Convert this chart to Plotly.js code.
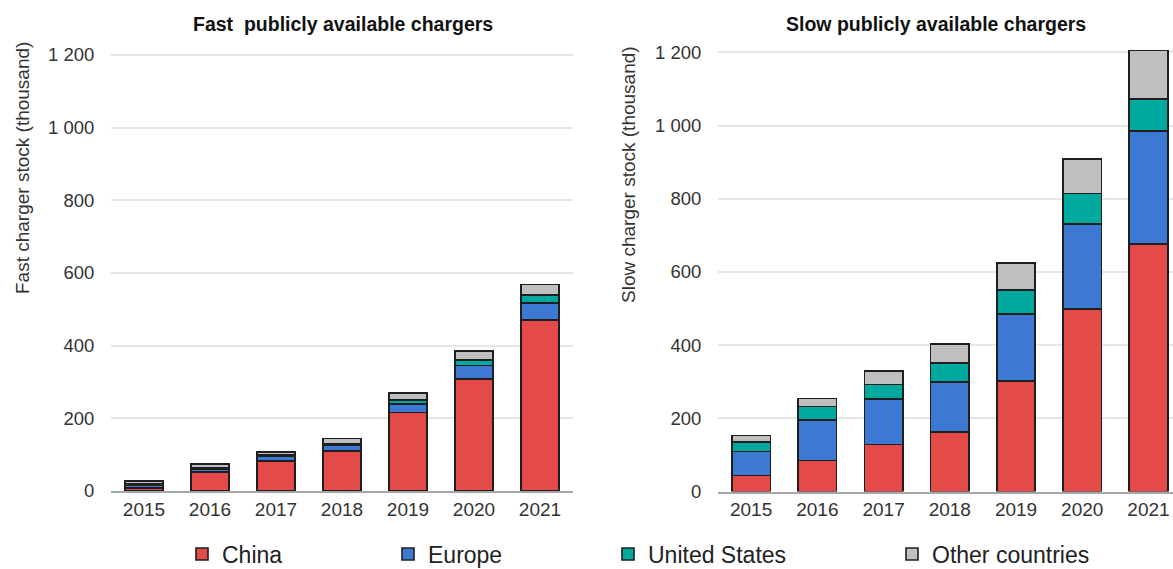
<!DOCTYPE html>
<html>
<head>
<meta charset="utf-8">
<script src="https://cdn.plot.ly/plotly-3.0.1.min.js"></script>
<style>html,body{margin:0;padding:0;background:#fff;}#chart{width:1173px;height:569px;}</style>
</head>
<body>
<div id="chart"></div>
<script>
// ---- data (thousand chargers) ----
const years = ["2015", "2016", "2017", "2018", "2019", "2020", "2021"];
const seriesNames = ["China", "Europe", "United States", "Other countries"];

const fastChina  = [9, 52, 82, 110, 216, 308, 470];
const fastEurope = [6, 8, 13, 16, 24, 37, 48];
const fastUS     = [4, 3, 4, 5, 11, 16, 22];
const fastOther  = [8, 12, 9, 13, 18, 25, 28];

const slowChina  = [44, 85, 128, 162, 302, 499, 676];
const slowEurope = [65, 111, 125, 137, 184, 232, 309];
const slowUS     = [27, 36, 39, 52, 65, 84, 88];
const slowOther  = [17, 22, 38, 53, 73, 94, 132];

const yTickVals = [0, 200, 400, 600, 800, 1000, 1200];
const yTickText = ["0", "200", "400", "600", "800", "1 000", "1 200"];

const titleFast = "Fast  publicly available chargers";
const titleSlow = "Slow publicly available chargers";
const yTitleFast = "Fast charger stock (thousand)";
const yTitleSlow = "Slow charger stock (thousand)";

// ---- styling ----
const colors = ["#e34a48", "#3d78d2", "#00a99d", "#bfbfbf"];
const FONT = "Liberation Sans, Arial, Helvetica, sans-serif";
const W = 1173, H = 569;
const px = v => v / W;
const py = v => 1 - v / H;

const fastSets = [fastChina, fastEurope, fastUS, fastOther];
const slowSets = [slowChina, slowEurope, slowUS, slowOther];
const legendIds = ["legend", "legend2", "legend3", "legend4"];
const barLine = {color: "#1f1f1f", width: 1.6};

const traces = [];
fastSets.forEach((vals, i) => {
  traces.push({
    type: "bar", x: years, y: vals, name: seriesNames[i],
    xaxis: "x", yaxis: "y",
    marker: {color: colors[i], line: barLine},
    legend: legendIds[i], showlegend: true, hoverinfo: "x+y+name"
  });
});
slowSets.forEach((vals, i) => {
  traces.push({
    type: "bar", x: years, y: vals, name: seriesNames[i],
    xaxis: "x2", yaxis: "y2",
    marker: {color: colors[i], line: barLine},
    showlegend: false, hoverinfo: "x+y+name"
  });
});

const tickFont = {family: FONT, size: 19, color: "#333333"};
const gridColor = "#e6e6e6";

function xAxis(domain, range, anchor) {
  return {
    domain: domain, range: range, anchor: anchor, type: "category",
    showgrid: false, showline: true, linecolor: "#a6a6a6", linewidth: 2,
    ticks: "", tickfont: tickFont, fixedrange: true, automargin: false
  };
}
function yAxis(domain, range, anchor) {
  return {
    domain: domain, range: range, anchor: anchor,
    tickvals: yTickVals, ticktext: yTickText,
    showgrid: true, gridcolor: gridColor, gridwidth: 2,
    zeroline: false, showline: false,
    ticks: "outside", ticklen: 12, tickcolor: "rgba(0,0,0,0)",
    tickfont: {family: FONT, size: 18.5, color: "#333333"}, fixedrange: true, automargin: false
  };
}

const legendFont = {family: FONT, size: 23, color: "#222222"};
function legendAt(xLeft) {
  return {
    orientation: "h", x: px(xLeft), xanchor: "left", y: py(554), yanchor: "middle",
    font: legendFont, bgcolor: "rgba(0,0,0,0)", borderwidth: 0, itemclick: false, itemdoubleclick: false
  };
}

const layout = {
  width: W, height: H,
  margin: {l: 0, r: 0, t: 0, b: 0, pad: 0, autoexpand: false},
  paper_bgcolor: "#ffffff", plot_bgcolor: "#ffffff",
  barmode: "stack", bargap: 0.42,
  font: {family: FONT, color: "#333333"},
  xaxis:  xAxis([px(111), px(573)], [-0.5, 6.5], "y"),
  yaxis:  yAxis([py(491), py(44.1)], [0, 1230], "x"),
  xaxis2: xAxis([px(718), 1], [-0.5, 6.37], "y2"),
  yaxis2: yAxis([py(491.5), py(41.5)], [0, 1230], "x2"),
  legend:  legendAt(182),
  legend2: legendAt(388),
  legend3: legendAt(608),
  legend4: legendAt(892),
  annotations: [
    {text: "<b>" + titleFast + "</b>", xref: "paper", yref: "paper", x: px(343), y: py(24),
     xanchor: "center", yanchor: "middle", showarrow: false, font: {family: FONT, size: 19.5, color: "#111111"}},
    {text: "<b>" + titleSlow + "</b>", xref: "paper", yref: "paper", x: px(936), y: py(24),
     xanchor: "center", yanchor: "middle", showarrow: false, font: {family: FONT, size: 19.5, color: "#111111"}},
    {text: yTitleFast, xref: "paper", yref: "paper", x: px(22), y: py(168), textangle: -90,
     xanchor: "center", yanchor: "middle", showarrow: false, font: {family: FONT, size: 19, color: "#333333"}},
    {text: yTitleSlow, xref: "paper", yref: "paper", x: px(628), y: py(175), textangle: -90,
     xanchor: "center", yanchor: "middle", showarrow: false, font: {family: FONT, size: 19, color: "#333333"}}
  ]
};

Plotly.newPlot("chart", traces, layout, {displayModeBar: false, staticPlot: true});
</script>
</body>
</html>
